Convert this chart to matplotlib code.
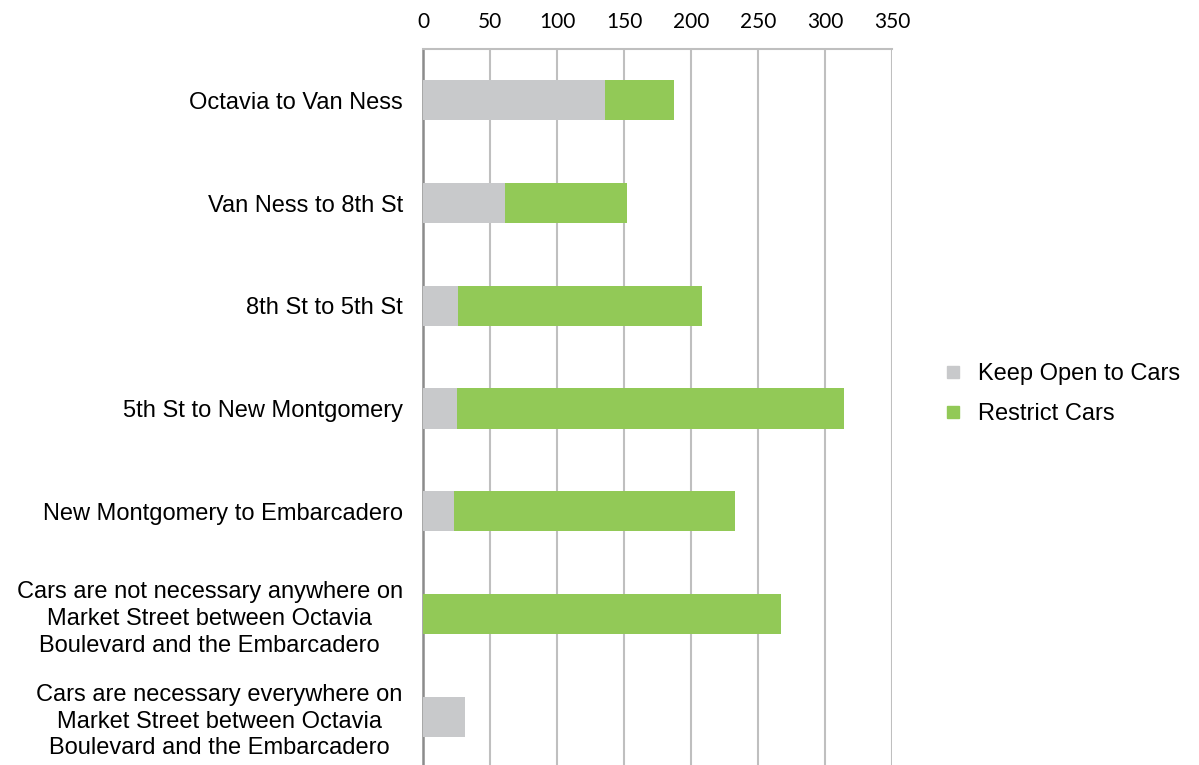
import matplotlib
matplotlib.use("Agg")
import matplotlib.pyplot as plt
from matplotlib.lines import Line2D

categories = [
    "Octavia to Van Ness",
    "Van Ness to 8th St",
    "8th St to 5th St",
    "5th St to New Montgomery",
    "New Montgomery to Embarcadero",
    "Cars are not necessary anywhere on\nMarket Street between Octavia\nBoulevard and the Embarcadero",
    "Cars are necessary everywhere on\nMarket Street between Octavia\nBoulevard and the Embarcadero",
]
keep_open = [136, 61, 26, 25, 23, 0, 31]
restrict = [51, 91, 182, 289, 210, 267, 0]
x_ticks = [0, 50, 100, 150, 200, 250, 300, 350]
series_names = ["Keep Open to Cars", "Restrict Cars"]

GRAY = "#C8C9CB"
GREEN = "#92C957"
GRID = "#BFBFBF"

W, H, DPI = 1199, 765, 100
fig = plt.figure(figsize=(W / DPI, H / DPI), dpi=DPI)
fig.patch.set_facecolor("white")

left, right, top, bottom = 423 / W, 892 / W, 49 / H, 768 / H
ax = fig.add_axes([left, 1 - bottom, right - left, bottom - top])

pos = list(range(len(categories)))
ax.barh(pos, keep_open, height=0.39, color=GRAY, zorder=3)
ax.barh(pos, restrict, left=keep_open, height=0.39, color=GREEN, zorder=3)

ax.set_xlim(0, 350)
ax.set_ylim(len(categories) - 0.5, -0.5)
ax.set_xticks(x_ticks)
ax.xaxis.tick_top()
ax.tick_params(axis="x", length=0, pad=12.5, labelsize=15, labelcolor="#000000")
for t in ax.get_xticklabels():
    t.set_fontfamily("Lato")

ax.set_yticks(pos)
ax.set_yticklabels(categories, fontsize=17, fontfamily="Liberation Sans")
ax.tick_params(axis="y", length=0, pad=14.5)
for t in ax.get_yticklabels():
    t.set_multialignment("center")
    t.set_linespacing(1.28)

ax.grid(axis="x", color=GRID, linewidth=1.5, zorder=0)
for s in ["right", "bottom"]:
    ax.spines[s].set_visible(False)
ax.spines["top"].set_color(GRID)
ax.spines["top"].set_linewidth(1.5)
ax.spines["left"].set_color("#8C8C8C")
ax.spines["left"].set_linewidth(1.8)

handles = [
    Line2D([], [], marker="s", linestyle="none", markersize=9, color=GRAY),
    Line2D([], [], marker="s", linestyle="none", markersize=9, color=GREEN),
]
fig.legend(handles, series_names, loc="center left",
           bbox_to_anchor=(920 / W, 1 - 394 / H), frameon=False,
           prop={"family": "Liberation Sans", "size": 17},
           handletextpad=0.55, labelspacing=0.75, handlelength=1.0)

fig.savefig("out.png", dpi=DPI)
